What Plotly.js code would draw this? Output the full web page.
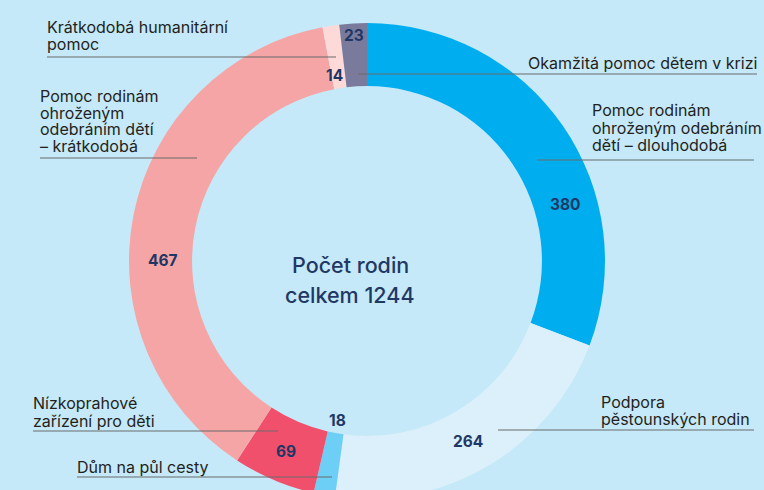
<!DOCTYPE html>
<html>
<head>
<meta charset="utf-8">
<script src="https://cdn.plot.ly/plotly-3.0.1.min.js"></script>
<style>
html,body{margin:0;padding:0;background:#c5e9f8;overflow:hidden;width:764px;height:490px;}
#chart{width:764px;height:510px;}
</style>
</head>
<body>
<div id="chart"></div>
<script>
// ---- data ----
const categories = [
  "Pomoc rodinám ohroženým odebráním dětí – dlouhodobá",
  "Podpora pěstounských rodin",
  "Dům na půl cesty",
  "Nízkoprahové zařízení pro děti",
  "Pomoc rodinám ohroženým odebráním dětí – krátkodobá",
  "Krátkodobá humanitární pomoc",
  "Okamžitá pomoc dětem v krizi"
];
const values = [380, 264, 18, 69, 467, 14, 23];
const centerLines = ["Počet rodin", "celkem 1244"];
const labelLines = [
  ["Pomoc rodinám", "ohroženým odebráním", "dětí – dlouhodobá"],
  ["Podpora", "pěstounských rodin"],
  ["Dům na půl cesty"],
  ["Nízkoprahové", "zařízení pro děti"],
  ["Pomoc rodinám", "ohroženým", "odebráním dětí", "– krátkodobá"],
  ["Krátkodobá humanitární", "pomoc"],
  ["Okamžitá pomoc dětem v krizi"]
];

// ---- style ----
const colors = ["#00aeef", "#dbf0fb", "#6dcff6", "#f0506c", "#f6a5a6", "#fdd9d8", "#7a7b9c"];
const W = 764, H = 510;
const cx = 367, cy = 261, R = 238, hole = 0.735;
const FONT = "Inter, 'Open Sans', sans-serif";
// value label placement: fraction along slice and radius (px)
const valFrac = [0.67, 0.52, 0.5, 0.5, 0.42, 0.2, 0.5];
const valRad  = [206, 207, 162, 207, 204, 188, 226];
// leader labels: anchor side, text x, first line y, line spacing, line y, line x0, x1
const leader = [
  {anchor:"left",  x:591, y:110, dy:17.5, ly:160, lx0:537, lx1:754},
  {anchor:"left",  x:600, y:402, dy:17,   ly:430, lx0:498, lx1:754},
  {anchor:"left",  x:76,  y:467, dy:17,   ly:477, lx0:77,  lx1:332},
  {anchor:"left",  x:32,  y:403, dy:18,   ly:431, lx0:33,  lx1:278},
  {anchor:"left",  x:39,  y:96,  dy:16.7, ly:158, lx0:40,  lx1:197},
  {anchor:"left",  x:46,  y:27,  dy:17,   ly:57,  lx0:47,  lx1:336},
  {anchor:"right", x:758, y:63,  dy:17,   ly:74,  lx0:358, lx1:757}
];
const LABEL_SIZE = 16;

const px = x => x / W;
const py = y => (H - y) / H;

const total = values.reduce((a, b) => a + b, 0);
const annotations = [];
const shapes = [];

// value labels
let cum = 0;
values.forEach((v, i) => {
  const ang = (cum + v * valFrac[i]) / total * 2 * Math.PI;
  cum += v;
  const x = cx + valRad[i] * Math.sin(ang);
  const y = cy - valRad[i] * Math.cos(ang);
  annotations.push({
    text: String(v), x: px(x), y: py(y), xref: "paper", yref: "paper",
    xanchor: "center", yanchor: "middle", showarrow: false, borderpad: 0,
    font: {family: FONT, size: 15.5, color: "#1e3765", weight: 700}
  });
});

// category labels with leader lines (one text block per label; tight line spacing)
labelLines.forEach((lines, i) => {
  const L = leader[i];
  const text = lines.map(t => `<span style="font-size:${LABEL_SIZE}px">${t}</span>`).join("<br>");
  annotations.push({
    text: text, x: px(L.x), y: py(L.y + (lines.length - 1) * L.dy / 2),
    xref: "paper", yref: "paper", align: L.anchor,
    xanchor: L.anchor, yanchor: "middle", showarrow: false, borderpad: 0,
    font: {family: FONT, size: L.dy / 1.3, color: "#231f20"}
  });
  shapes.push({
    type: "line", xref: "paper", yref: "paper",
    x0: px(L.lx0), x1: px(L.lx1), y0: py(L.ly), y1: py(L.ly),
    line: {color: "#6b6b6b", width: 1.2}
  });
});

// center text
centerLines.forEach((t, k) => {
  annotations.push({
    text: t, x: px(350), y: py(265 + k * 30), xref: "paper", yref: "paper",
    xanchor: "center", yanchor: "middle", showarrow: false, borderpad: 0,
    font: {family: FONT, size: 21.5, color: "#1f3864", weight: 500}
  });
});

const trace = {
  type: "pie",
  labels: categories,
  values: values,
  sort: false,
  direction: "clockwise",
  rotation: 0,
  hole: hole,
  textinfo: "none",
  hoverinfo: "label+value",
  marker: {colors: colors, line: {width: 0}},
  domain: {x: [px(cx - R), px(cx + R)], y: [py(cy + R), py(cy - R)]},
  showlegend: false
};

const layout = {
  width: W, height: H,
  margin: {l: 0, r: 0, t: 0, b: 0},
  paper_bgcolor: "#c5e9f8",
  plot_bgcolor: "#c5e9f8",
  showlegend: false,
  annotations: annotations,
  shapes: shapes
};

Plotly.newPlot("chart", [trace], layout, {displayModeBar: false, staticPlot: true});
</script>
</body>
</html>
